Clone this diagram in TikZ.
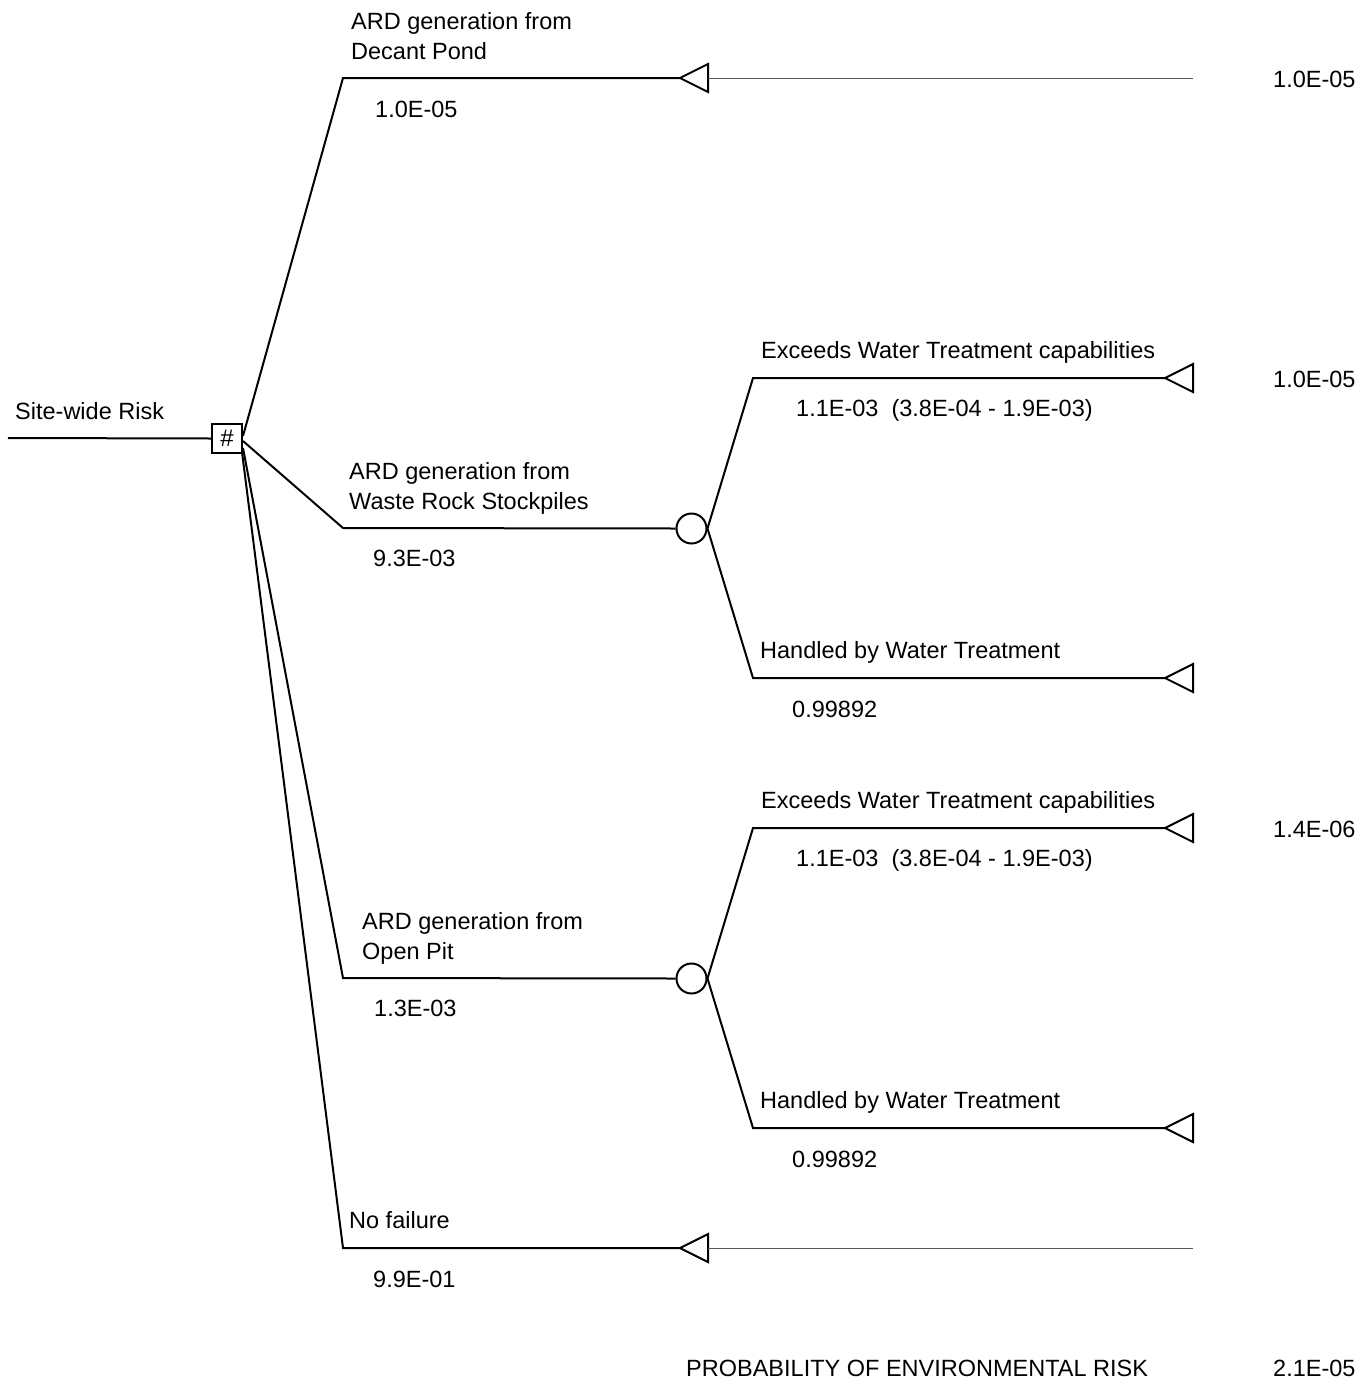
\documentclass[tikz,border=0pt]{standalone}
\usepackage{fontspec}
\usetikzlibrary{calc}
\setmainfont{Liberation Sans}
\begin{document}
\begin{tikzpicture}[x=1pt,y=-1pt,
  br/.style={line width=2pt,line join=miter},
  contline/.style={line width=0.9pt,black!65},
  lbl/.style={anchor=base west,inner sep=0pt,font=\fontsize{23.5}{28}\selectfont},
  chance/.style={circle,draw,line width=2pt,minimum size=30pt,inner sep=0pt},
  decbox/.style={draw,line width=2pt,minimum width=30pt,minimum height=29pt,inner sep=0pt,font=\fontsize{24}{26}\selectfont}]
\useasboundingbox (0,0) rectangle (1368,1384);

% root
\coordinate (start) at (8,438);
\node[decbox] (root) at (227,438.5) {\#};
\draw[br] (start) -- (root.west);
\node[lbl] (tsite) at (15,419) {Site-wide Risk};

% junction points
\coordinate (rA) at (243,436);
\coordinate (rB) at (243,441);
\coordinate (rC) at (243,448);
\coordinate (rD) at (242,452);

\coordinate (d1) at (343,78);
\coordinate (t1) at (680,78);
\coordinate (w1) at (343,528);
\coordinate (o1) at (343,978);
\coordinate (n1) at (343,1248);
\coordinate (t6) at (680,1248);

\node[chance] (cw) at (691.5,528.5) {};
\node[chance] (co) at (691.5,978.5) {};

\coordinate (e1) at (753,378);
\coordinate (h1) at (753,678);
\coordinate (e2) at (753,828);
\coordinate (h2) at (753,1128);
\coordinate (t2) at (1165,378);
\coordinate (t3) at (1165,678);
\coordinate (t4) at (1165,828);
\coordinate (t5) at (1165,1128);

\coordinate (z1) at (1193,78);
\coordinate (z6) at (1193,1248);
\coordinate (b1s) at (708,78);
\coordinate (b6s) at (708,1248);

% branches from decision
\draw[br] (rA) -- (d1) -- (t1);
\draw[br] (rB) -- (w1) -- (cw.west);
\draw[br] (rC) -- (o1) -- (co.west);
\draw[br] (rD) -- (n1) -- (t6);

% branches from chance nodes
\draw[br] (cw.east) -- (e1) -- (t2);
\draw[br] (cw.east) -- (h1) -- (t3);
\draw[br] (co.east) -- (e2) -- (t4);
\draw[br] (co.east) -- (h2) -- (t5);

% terminal triangles
\foreach \t in {t1,t2,t3,t4,t5,t6}{
  \draw[br] (\t) -- ++(28,-14) -- ++(0,28) -- cycle;
}

% thin continuation lines
\draw[contline] (b1s) -- (z1);
\draw[contline] (b6s) -- (z6);

% labels
\node[lbl] (a1) at (351,29) {ARD generation from};
\node[lbl] (a2) at (351,59) {Decant Pond};
\node[lbl] (a3) at (375,117) {1.0E-05};

\node[lbl] (b1) at (349,479) {ARD generation from};
\node[lbl] (b2) at (349,509) {Waste Rock Stockpiles};
\node[lbl] (b3) at (373,566) {9.3E-03};

\node[lbl] (c1) at (362,929) {ARD generation from};
\node[lbl] (c2) at (362,959) {Open Pit};
\node[lbl] (c3) at (374,1016) {1.3E-03};

\node[lbl] (n2) at (349,1228) {No failure};
\node[lbl] (n3) at (373,1287) {9.9E-01};

\node[lbl] (x1) at (761,358) {Exceeds Water Treatment capabilities};
\node[lbl] (x2) at (796,416) {1.1E-03\ \ (3.8E-04 - 1.9E-03)};
\node[lbl] (y1) at (760,658) {Handled by Water Treatment};
\node[lbl] (y2) at (792,717) {0.99892};

\node[lbl] (x3) at (761,808) {Exceeds Water Treatment capabilities};
\node[lbl] (x4) at (796,866) {1.1E-03\ \ (3.8E-04 - 1.9E-03)};
\node[lbl] (y3) at (760,1108) {Handled by Water Treatment};
\node[lbl] (y4) at (792,1167) {0.99892};

% right values
\node[lbl] (v1) at (1273,87) {1.0E-05};
\node[lbl] (v2) at (1273,387) {1.0E-05};
\node[lbl] (v3) at (1273,837) {1.4E-06};

\node[lbl] (p1) at (686,1376) {PROBABILITY OF ENVIRONMENTAL RISK};
\node[lbl] (p2) at (1273,1376) {2.1E-05};
\end{tikzpicture}
\end{document}
